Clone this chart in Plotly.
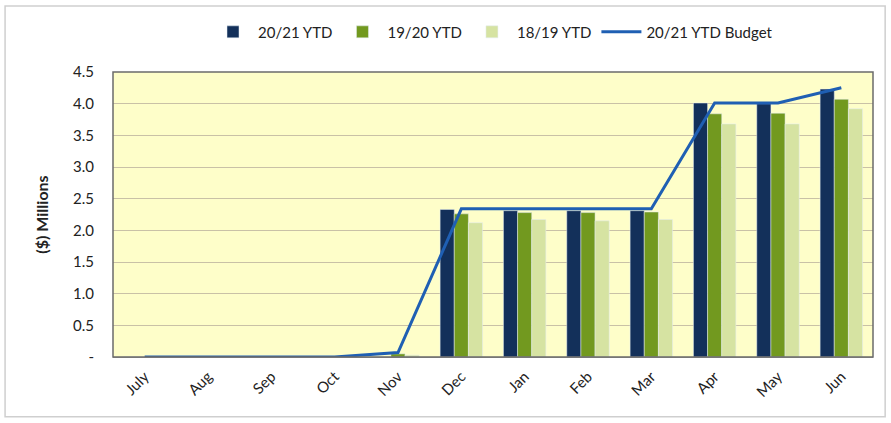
import plotly.graph_objects as go

months = ["July", "Aug", "Sep", "Oct", "Nov", "Dec", "Jan", "Feb", "Mar", "Apr", "May", "Jun"]
ytd_2021 = [0, 0, 0, 0, 0, 2.33, 2.31, 2.31, 2.31, 4.01, 4.00, 4.23]
ytd_1920 = [0, 0, 0, 0, 0.05, 2.26, 2.28, 2.28, 2.29, 3.84, 3.85, 4.07]
ytd_1819 = [0, 0, 0, 0, 0.03, 2.12, 2.17, 2.15, 2.17, 3.68, 3.68, 3.92]
budget_2021 = [0.0, 0.0, 0.0, 0.0, 0.07, 2.34, 2.34, 2.34, 2.34, 4.01, 4.01, 4.25]
y_ticks = [0, 0.5, 1.0, 1.5, 2.0, 2.5, 3.0, 3.5, 4.0, 4.5]
y_labels = ["-", "0.5", "1.0", "1.5", "2.0", "2.5", "3.0", "3.5", "4.0", "4.5"]

fig = go.Figure()
fig.add_trace(go.Bar(x=months, y=ytd_2021, name="20/21 YTD", marker_color="#13305a"))
fig.add_trace(go.Bar(x=months, y=ytd_1920, name="19/20 YTD", marker_color="#72991f"))
fig.add_trace(go.Bar(x=months, y=ytd_1819, name="18/19 YTD", marker_color="#d6e3a2"))
fig.add_trace(go.Scatter(x=months, y=budget_2021, name="20/21 YTD Budget", mode="lines",
                         line=dict(color="#1f5fb3", width=3)))

fig.update_layout(
    width=891, height=423,
    margin=dict(l=113, r=18, t=72, b=66, autoexpand=False),
    paper_bgcolor="white",
    plot_bgcolor="#fefec9",
    barmode="group",
    bargap=0.33,
    bargroupgap=0,
    font=dict(family="Lato", size=14, color="#222"),
    legend=dict(orientation="h", x=0.5, xanchor="center", y=1.14, yanchor="middle",
                font=dict(size=15), traceorder="normal", itemwidth=40),
    showlegend=True,
    shapes=[
        dict(type="rect", xref="paper", yref="paper", x0=0, x1=1, y0=0, y1=1,
             line=dict(color="#6b6b6b", width=1.5), layer="above"),
        dict(type="rect", xref="paper", yref="paper", x0=-0.142, x1=1.016, y0=-0.21, y1=1.232,
             line=dict(color="#cfcfcf", width=1.5)),
    ],
)
fig.update_xaxes(tickangle=-45, showgrid=False, ticks="", showline=True, linecolor="#999",
                 tickfont=dict(size=15), ticklabelstandoff=4)
fig.update_yaxes(range=[0, 4.5], tickvals=y_ticks, ticktext=y_labels, showgrid=True,
                 gridcolor="#c9c1a6", gridwidth=1, zeroline=False,
                 title=dict(text="<b>($) Millions</b>", font=dict(size=16), standoff=20),
                 tickfont=dict(size=15), ticks="", showline=False, ticklabelstandoff=18)

fig.write_html("out.html")
